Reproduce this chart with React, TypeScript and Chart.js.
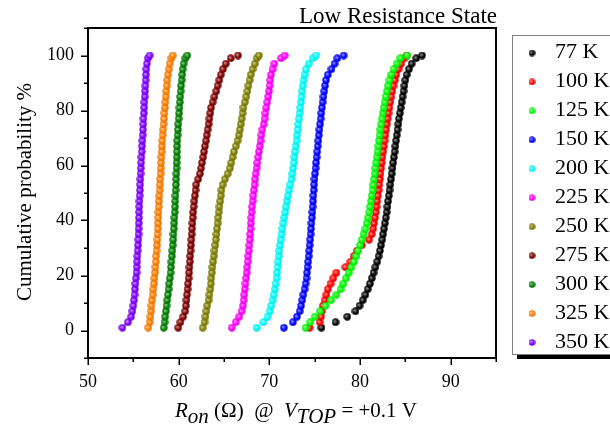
import React, { useEffect, useRef } from 'react';
import { Chart, registerables } from 'chart.js';
Chart.register(...registerables);

// ---------------- data ----------------
const SERIES_LABELS = ['77 K', '100 K', '125 K', '150 K', '200 K', '225 K', '250 K', '275 K', '300 K', '325 K', '350 K'];
const SERIES_COLORS = ['#000000', '#ff0000', '#00ff00', '#0000ff', '#00ffff', '#ff00ff', '#808000', '#800000', '#008000', '#ff8000', '#8000ff'];

// cumulative probability levels (%)
const PROB = [1, 3, 5, 7, 9, 11, 13, 15, 17, 19, 21, 23, 25, 27, 29, 31, 33, 35, 37, 39, 41, 43, 45, 47, 49, 51, 53, 55, 57, 59, 61, 63, 65, 67, 69, 71, 73, 75, 77, 79, 81, 83, 85, 87, 89, 91, 93, 95, 97, 99, 100];

// R_on (Ohm) for each level
const R_77K = [75.75, 77.3, 78.6, 79.5, 79.95, 80.3, 80.6, 80.85, 81.1, 81.3, 81.5, 81.7, 81.9, 82.05, 82.2, 82.32, 82.45, 82.55, 82.65, 82.75, 82.85, 82.94, 83.02, 83.1, 83.18, 83.26, 83.34, 83.42, 83.5, 83.58, 83.66, 83.74, 83.82, 83.9, 83.98, 84.06, 84.14, 84.22, 84.3, 84.4, 84.5, 84.6, 84.7, 84.8, 84.9, 85.0, 85.15, 85.4, 85.7, 86.2, 86.85];
const R_100K = [74.45, 75.55, 75.7, 75.8, 75.9, 76.1, 76.3, 76.45, 76.75, 77.05, 77.4, 78.4, 78.95, 79.3, 79.65, 80.2, 81.0, 81.3, 81.45, 81.55, 81.65, 81.75, 81.82, 81.9, 81.98, 82.06, 82.13, 82.2, 82.26, 82.33, 82.4, 82.48, 82.56, 82.64, 82.72, 82.8, 82.88, 82.97, 83.06, 83.15, 83.25, 83.35, 83.45, 83.56, 83.7, 83.85, 84.0, 84.25, 84.55, 84.9, 85.15];
const R_125K = [74.0, 74.5, 75.0, 75.6, 76.2, 76.8, 77.4, 77.85, 78.15, 78.45, 78.75, 79.05, 79.35, 79.6, 79.8, 80.0, 80.2, 80.4, 80.6, 80.75, 80.9, 81.03, 81.13, 81.22, 81.3, 81.38, 81.46, 81.54, 81.62, 81.7, 81.78, 81.86, 81.94, 82.02, 82.1, 82.17, 82.25, 82.34, 82.43, 82.52, 82.62, 82.72, 82.84, 82.97, 83.1, 83.25, 83.45, 83.7, 84.05, 84.45, 85.2];
const R_150K = [71.6, 72.6, 73.05, 73.35, 73.5, 73.63, 73.75, 73.88, 74.0, 74.1, 74.16, 74.22, 74.28, 74.34, 74.4, 74.45, 74.5, 74.55, 74.6, 74.65, 74.7, 74.75, 74.78, 74.82, 74.86, 74.9, 74.94, 74.98, 75.04, 75.1, 75.16, 75.22, 75.28, 75.34, 75.4, 75.46, 75.52, 75.59, 75.66, 75.73, 75.8, 75.88, 75.97, 76.06, 76.15, 76.25, 76.45, 76.85, 77.2, 77.5, 78.2];
const R_200K = [68.6, 69.35, 69.8, 70.05, 70.2, 70.35, 70.5, 70.6, 70.7, 70.8, 70.86, 70.92, 70.98, 71.04, 71.1, 71.17, 71.25, 71.35, 71.45, 71.55, 71.65, 71.75, 71.85, 71.95, 72.05, 72.18, 72.3, 72.45, 72.55, 72.62, 72.7, 72.77, 72.85, 72.92, 73.0, 73.06, 73.13, 73.2, 73.27, 73.35, 73.42, 73.48, 73.55, 73.62, 73.7, 73.78, 73.88, 74.05, 74.35, 74.8, 75.15];
const R_225K = [65.85, 66.3, 66.68, 66.95, 67.1, 67.17, 67.23, 67.3, 67.37, 67.44, 67.5, 67.56, 67.62, 67.68, 67.74, 67.8, 67.85, 67.89, 67.93, 67.97, 68.01, 68.05, 68.1, 68.17, 68.23, 68.3, 68.37, 68.43, 68.5, 68.59, 68.68, 68.77, 68.86, 68.95, 69.03, 69.12, 69.22, 69.38, 69.48, 69.57, 69.67, 69.77, 69.87, 69.97, 70.03, 70.1, 70.18, 70.35, 70.55, 71.3, 71.7];
const R_250K = [62.65, 62.85, 62.95, 63.05, 63.15, 63.3, 63.4, 63.5, 63.55, 63.6, 63.66, 63.72, 63.8, 63.87, 63.95, 64.03, 64.1, 64.17, 64.24, 64.3, 64.36, 64.42, 64.5, 64.58, 64.65, 64.72, 64.85, 65.1, 65.4, 65.65, 65.8, 65.95, 66.1, 66.3, 66.5, 66.65, 66.75, 66.85, 66.95, 67.05, 67.15, 67.3, 67.45, 67.58, 67.7, 67.82, 67.95, 68.15, 68.4, 68.6, 68.85];
const R_275K = [59.95, 60.2, 60.5, 60.72, 60.8, 60.86, 60.92, 60.98, 61.04, 61.1, 61.15, 61.19, 61.23, 61.27, 61.31, 61.36, 61.4, 61.44, 61.48, 61.52, 61.56, 61.6, 61.65, 61.72, 61.79, 61.86, 61.93, 62.15, 62.35, 62.47, 62.58, 62.7, 62.8, 62.9, 63.02, 63.1, 63.2, 63.3, 63.39, 63.48, 63.57, 63.75, 63.95, 64.15, 64.3, 64.48, 64.65, 64.88, 65.2, 65.75, 66.55];
const R_300K = [58.35, 58.45, 58.52, 58.59, 58.66, 58.74, 58.82, 58.89, 58.96, 59.03, 59.1, 59.15, 59.2, 59.25, 59.3, 59.35, 59.4, 59.43, 59.47, 59.5, 59.53, 59.57, 59.6, 59.62, 59.65, 59.67, 59.7, 59.72, 59.75, 59.77, 59.78, 59.8, 59.82, 59.83, 59.85, 59.88, 59.92, 59.96, 60.0, 60.05, 60.09, 60.13, 60.17, 60.22, 60.27, 60.33, 60.39, 60.45, 60.55, 60.75, 60.95];
const R_325K = [56.65, 56.8, 56.88, 56.95, 57.0, 57.07, 57.14, 57.2, 57.27, 57.33, 57.4, 57.44, 57.48, 57.52, 57.56, 57.61, 57.65, 57.67, 57.7, 57.72, 57.75, 57.77, 57.8, 57.83, 57.87, 57.9, 57.93, 57.97, 58.0, 58.03, 58.06, 58.1, 58.13, 58.16, 58.2, 58.23, 58.28, 58.33, 58.38, 58.43, 58.48, 58.53, 58.58, 58.64, 58.7, 58.76, 58.83, 58.92, 59.02, 59.2, 59.35];
const R_350K = [53.8, 54.4, 54.75, 54.9, 55.0, 55.07, 55.13, 55.18, 55.23, 55.3, 55.35, 55.38, 55.42, 55.45, 55.48, 55.52, 55.55, 55.57, 55.58, 55.6, 55.62, 55.64, 55.65, 55.68, 55.7, 55.73, 55.75, 55.78, 55.8, 55.83, 55.86, 55.9, 55.93, 55.96, 56.0, 56.03, 56.06, 56.09, 56.12, 56.16, 56.2, 56.22, 56.26, 56.3, 56.33, 56.36, 56.4, 56.43, 56.5, 56.6, 56.8];

const SERIES_VALUES = [R_77K, R_100K, R_125K, R_150K, R_200K, R_225K, R_250K, R_275K, R_300K, R_325K, R_350K];

const X_TICKS = [50, 55, 60, 65, 70, 75, 80, 85, 90, 95];
const X_LABELED = [50, 60, 70, 80, 90];
const Y_TICKS = [-10, 0, 10, 20, 30, 40, 50, 60, 70, 80, 90, 100, 110];
const Y_LABELED = [0, 20, 40, 60, 80, 100];

const TITLE = 'Low Resistance State';
const Y_TITLE = 'Cumulative probability %';

const SERIF = '"Liberation Serif", "Times New Roman", serif';

// ---------------- helpers ----------------
function mix(hex: string, other: string, t: number) {
  const p = (h: string) => [1, 3, 5].map((i) => parseInt(h.slice(i, i + 2), 16));
  const a = p(hex);
  const b = p(other);
  const c = a.map((v, i) => Math.round(v + (b[i] - v) * t));
  return `rgb(${c[0]},${c[1]},${c[2]})`;
}

function makeBall(hex: string, d = 8) {
  const c = document.createElement('canvas');
  c.width = d;
  c.height = d;
  const g = c.getContext('2d')!;
  const r = d / 2;
  const grad = g.createRadialGradient(r - 1, r - 1, 0.2, r, r, r);
  grad.addColorStop(0, mix(hex, '#ffffff', 0.6));
  grad.addColorStop(0.6, hex);
  grad.addColorStop(1, mix(hex, '#000000', 0.15));
  g.fillStyle = grad;
  g.beginPath();
  g.arc(r, r, r - 0.3, 0, Math.PI * 2);
  g.fill();
  return c;
}

export default function App() {
  const ref = useRef<HTMLCanvasElement | null>(null);

  useEffect(() => {
    const canvas = ref.current;
    if (!canvas) return;
    const balls = SERIES_COLORS.map((c) => makeBall(c));
    const legendBalls = SERIES_COLORS.map((c) => makeBall(c, 7));

    const datasets = SERIES_LABELS.map((label, i) => ({
      label,
      data: PROB.map((p, k) => ({ x: SERIES_VALUES[i][k], y: p })),
      pointStyle: balls[i] as any,
      pointRadius: 3.5,
      pointHoverRadius: 3.5,
      backgroundColor: SERIES_COLORS[i],
      borderColor: SERIES_COLORS[i],
      showLine: false,
      order: 20 - i,
    }));

    const decor = {
      id: 'decor',
      afterDraw(chart: any) {
        const ctx = chart.ctx as CanvasRenderingContext2D;
        const { left, right, top, bottom } = chart.chartArea;
        const xs = chart.scales.x;
        const ys = chart.scales.y;
        ctx.save();
        ctx.strokeStyle = '#000';
        ctx.lineWidth = 2;
        ctx.beginPath();
        ctx.moveTo(left - 1, top);
        ctx.lineTo(right, top);
        ctx.lineTo(right, bottom + 1);
        ctx.stroke();
        // ticks
        ctx.lineWidth = 1.5;
        ctx.beginPath();
        X_TICKS.forEach((v) => {
          const px = Math.round(xs.getPixelForValue(v)) + 0.25;
          const len = v % 10 === 0 ? 7 : 4;
          ctx.moveTo(px, bottom);
          ctx.lineTo(px, bottom + len);
        });
        Y_TICKS.forEach((v) => {
          const py = Math.round(ys.getPixelForValue(v)) + 0.25;
          const len = v % 20 === 0 ? 7 : 4;
          ctx.moveTo(left, py);
          ctx.lineTo(left - len, py);
        });
        ctx.stroke();

        // top-right title
        ctx.fillStyle = '#000';
        ctx.font = `23px ${SERIF}`;
        ctx.textAlign = 'right';
        ctx.textBaseline = 'alphabetic';
        ctx.fillText(TITLE, 497, 22.5);

        // y-axis title
        ctx.save();
        ctx.translate(25, 192);
        ctx.rotate(-Math.PI / 2);
        ctx.font = `21px ${SERIF}`;
        ctx.textAlign = 'center';
        ctx.textBaseline = 'middle';
        ctx.fillText(Y_TITLE, 0, 0);
        ctx.restore();

        // x-axis title with subscripts
        const parts = [
          { t: 'R', it: true, sub: false },
          { t: 'on', it: true, sub: true },
          { t: ' (\u03A9)  @  ', it: false, sub: false },
          { t: 'V', it: true, sub: false },
          { t: 'TOP', it: true, sub: true },
          { t: ' = +0.1 V', it: false, sub: false },
        ];
        ctx.textAlign = 'left';
        ctx.textBaseline = 'alphabetic';
        let x = 175;
        const base = 417;
        parts.forEach((p) => {
          ctx.font = `${p.it ? 'italic ' : ''}21px ${SERIF}`;
          ctx.fillText(p.t, x, p.sub ? base + 6 : base);
          x += ctx.measureText(p.t).width;
        });

        // legend box
        ctx.fillStyle = '#000';
        ctx.fillRect(517, 355, 120, 4);
        ctx.strokeStyle = '#7f7f7f';
        ctx.lineWidth = 1;
        ctx.strokeRect(512.5, 35.5, 130, 319);
        ctx.font = `22px ${SERIF}`;
        ctx.fillStyle = '#000';
        SERIES_LABELS.forEach((lab, i) => {
          const cy = 53 + i * 28.95;
          const b = legendBalls[i];
          ctx.drawImage(b, 532 - b.width / 2, cy - b.height / 2);
          ctx.fillText(lab, 555, 58.3 + i * 28.95);
        });
        ctx.restore();
      },
    };

    const chart = new Chart(canvas, {
      type: 'scatter',
      data: { datasets: datasets as any },
      options: {
        animation: false,
        responsive: false,
        events: [],
        layout: { padding: { left: 0, top: 28, right: 114, bottom: 0 } },
        plugins: {
          legend: { display: false },
          tooltip: { enabled: false },
          title: { display: false },
        },
        scales: {
          x: {
            type: 'linear',
            min: 50,
            max: 95,
            afterBuildTicks: (s: any) => {
              s.ticks = X_TICKS.map((v) => ({ value: v }));
            },
            afterFit: (s: any) => {
              s.height = 71;
            },
            ticks: {
              autoSkip: false,
              maxRotation: 0,
              padding: 13,
              color: '#000',
              font: { family: SERIF, size: 18 },
              callback: (v: any) => (X_LABELED.includes(Number(v)) ? String(v) : ''),
            },
            grid: { display: true, drawOnChartArea: false, drawTicks: false },
            border: { display: true, color: '#000', width: 2 },
          },
          y: {
            type: 'linear',
            min: -10,
            max: 110,
            afterBuildTicks: (s: any) => {
              s.ticks = Y_TICKS.map((v) => ({ value: v }));
            },
            afterFit: (s: any) => {
              s.width = 88;
            },
            ticks: {
              autoSkip: false,
              padding: 14,
              color: '#000',
              font: { family: SERIF, size: 18 },
              callback: (v: any) => (Y_LABELED.includes(Number(v)) ? String(v) : ''),
            },
            grid: { display: true, drawOnChartArea: false, drawTicks: false },
            border: { display: true, color: '#000', width: 2 },
          },
        },
      },
      plugins: [decor],
    });
    return () => chart.destroy();
  }, []);

  return (
    <div style={{ position: 'fixed', left: 0, top: 0, width: 610, height: 429, background: '#fff', overflow: 'hidden' }}>
      <canvas ref={ref} width={610} height={429} style={{ display: 'block' }} />
    </div>
  );
}
